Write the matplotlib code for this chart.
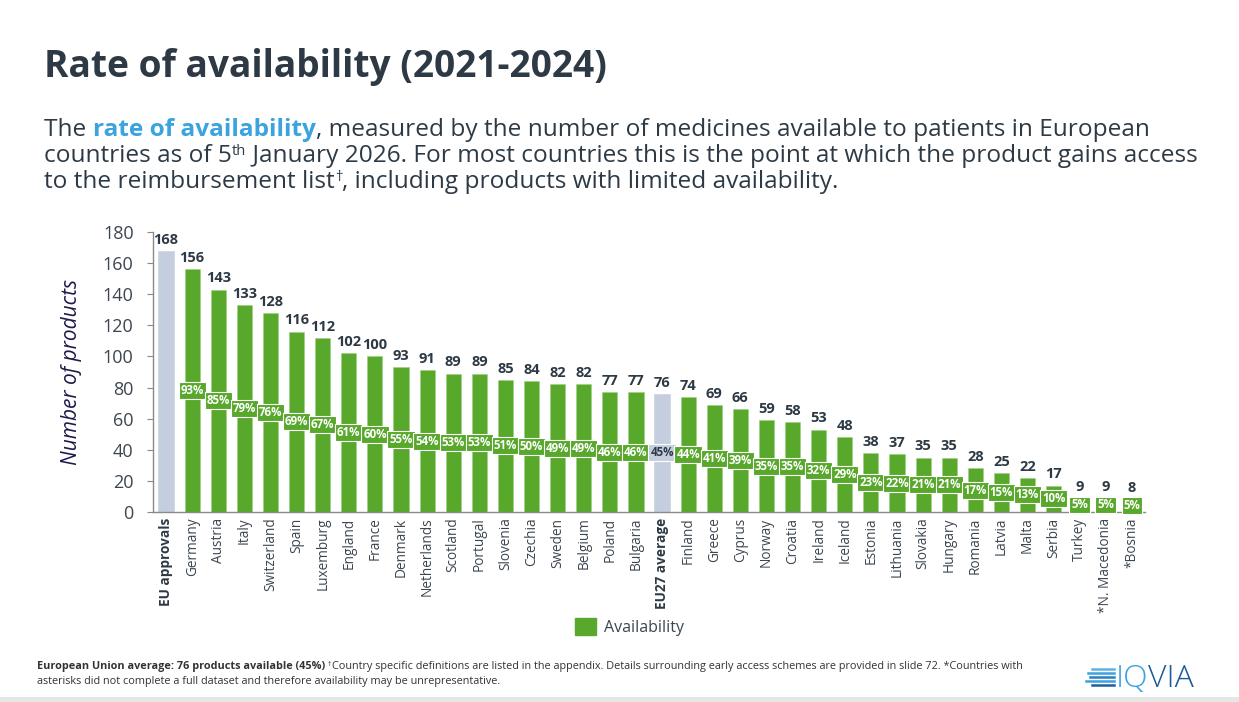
import matplotlib
matplotlib.use("Agg")
import matplotlib.pyplot as plt
from matplotlib.patches import Patch, Rectangle
from matplotlib.lines import Line2D

plt.rcParams['font.family'] = ['Open Sans', 'DejaVu Sans']

countries = ["EU approvals", "Germany", "Austria", "Italy", "Switzerland", "Spain", "Luxemburg",
             "England", "France", "Denmark", "Netherlands", "Scotland", "Portugal", "Slovenia",
             "Czechia", "Sweden", "Belgium", "Poland", "Bulgaria", "EU27 average", "Finland",
             "Greece", "Cyprus", "Norway", "Croatia", "Ireland", "Iceland", "Estonia", "Lithuania",
             "Slovakia", "Hungary", "Romania", "Latvia", "Malta", "Serbia", "Turkey",
             "*N. Macedonia", "*Bosnia"]
products = [168, 156, 143, 133, 128, 116, 112, 102, 100, 93, 91, 89, 89, 85, 84, 82, 82, 77, 77,
            76, 74, 69, 66, 59, 58, 53, 48, 38, 37, 35, 35, 28, 25, 22, 17, 9, 9, 8]
percent = [None, 93, 85, 79, 76, 69, 67, 61, 60, 55, 54, 53, 53, 51, 50, 49, 49, 46, 46, 45, 44,
           41, 39, 35, 35, 32, 29, 23, 22, 21, 21, 17, 15, 13, 10, 5, 5, 5]
reference_bars = ["EU approvals", "EU27 average"]
yticks = [0, 20, 40, 60, 80, 100, 120, 140, 160, 180]

GREEN = "#58a82c"
GREY = "#c5cedf"
DARK = "#2d3a45"
TICK = "#3c4650"
BLUE = "#3aa3e0"

W, H = 1239, 702
fig = plt.figure(figsize=(W / 100, H / 100), dpi=100)
fig.patch.set_facecolor("white")

ax = fig.add_axes([153 / W, 1 - 512 / H, (1145 - 153) / W, 280 / H])
x = list(range(len(countries)))
colors = [GREY if c in reference_bars else GREEN for c in countries]
bars = ax.bar(x, products, width=0.58, color=colors, edgecolor="#9fd07f", linewidth=0.4, zorder=2)
for b, c in zip(bars, countries):
    if c in reference_bars:
        b.set_edgecolor(GREY)

ax.set_xlim(-0.5, len(countries) - 0.5)
ax.set_ylim(0, 180)
ax.set_yticks(yticks)
ax.tick_params(axis='y', labelsize=13, colors="#888888", labelcolor=TICK, length=4, width=0.8, pad=10)
ax.set_xticks(x)
ax.set_xticklabels(countries, rotation=90, fontsize=9.8, color=TICK)
ax.tick_params(axis='x', length=0, pad=4)
for lbl, c in zip(ax.get_xticklabels(), countries):
    if c in reference_bars:
        lbl.set_fontweight("bold")
        lbl.set_color(DARK)
for s in ["top", "right"]:
    ax.spines[s].set_visible(False)
for s in ["left", "bottom"]:
    ax.spines[s].set_color("#8a8a8a")
    ax.spines[s].set_linewidth(1.0)

ax.set_ylabel("Number of products", fontsize=15, style="italic", color="#1d1a4a", labelpad=15)

for xi, v, p, c in zip(x, products, percent, countries):
    ax.annotate(str(v), (xi, v), xytext=(0, 3), textcoords="offset points",
                ha="center", va="bottom", fontsize=10.5, fontweight="bold", color=DARK)
    if p is not None:
        is_ref = c in reference_bars
        ax.text(xi, v / 2, f"{p}%", ha="center", va="center", fontsize=8.3, fontweight="bold",
                color=DARK if is_ref else "white", zorder=4,
                bbox=dict(boxstyle="square,pad=0.17", facecolor=GREY if is_ref else GREEN,
                          edgecolor="white", linewidth=0.8))

ax.legend(handles=[Patch(facecolor=GREEN, edgecolor=GREEN, label="Availability")],
          loc="center", bbox_to_anchor=(0.48, -0.41), frameon=False, fontsize=11.5,
          handlelength=1.3, handleheight=1.3, labelcolor=TICK, handletextpad=0.5)

# --- text helpers ---
renderer = fig.canvas.get_renderer()

def run(pieces, x0, y0):
    """pieces: list of (text, kwargs, dy_px). x0,y0 in pixels from top-left (baseline)."""
    cx = x0
    for txt, kw, dy in pieces:
        t = fig.text(cx / W, 1 - (y0 - dy) / H, txt, ha="left", va="baseline", **kw)
        bb = t.get_window_extent(renderer)
        cx += bb.width
    return cx

fig.text(44 / W, 1 - 77 / H, "Rate of availability (2021-2024)", fontsize=26.7, fontweight="bold",
         color=DARK, ha="left", va="baseline")

FS = 17.6
sk = dict(fontsize=FS, color=DARK)
sup = dict(fontsize=10.5, color=DARK)
run([("The ", sk, 0), ("rate of availability", dict(fontsize=FS, color=BLUE, fontweight="bold"), 0),
     (", measured by the number of medicines available to patients in European", sk, 0)], 44, 136)
run([("countries as of 5", sk, 0), ("th", sup, 7),
     (" January 2026. For most countries this is the point at which the product gains access", sk, 0)], 44, 162)
run([("to the reimbursement list", sk, 0), ("†", sup, 7),
     (", including products with limited availability.", sk, 0)], 44, 188)

FF = 7.8
fk = dict(fontsize=FF, color="#333333")
run([("European Union average: 76 products available (45%)", dict(fontsize=FF, color="#333333", fontweight="bold"), 0),
     (" ", fk, 0), ("†", dict(fontsize=5, color="#333333"), 3),
     ("Country specific definitions are listed in the appendix. Details surrounding early access schemes are provided in slide 72. *Countries with", fk, 0)],
    37, 669)
run([("asterisks did not complete a full dataset and therefore availability may be unrepresentative.", fk, 0)], 37, 684)

# IQVIA logo
for i, (x1, x2, col) in enumerate([(1092, 1114, "#5bb6e6"), (1088, 1114, "#3aa3e0"), (1090, 1114, "#2f7fbf"),
                                    (1086, 1114, "#3aa3e0"), (1092, 1114, "#1f5f9f")]):
    yy = 669 + i * 4
    fig.add_artist(Line2D([x1 / W, x2 / W], [1 - yy / H, 1 - yy / H], color=col, lw=1.8))
run([("IQ", dict(fontsize=23, color="#3aa3e0", fontweight="light"), 0),
     ("VIA", dict(fontsize=23, color="#1b5a96", fontweight="light"), 0)], 1116, 687)

# bottom grey band
fig.add_artist(Rectangle((0, 0), 1, 5 / H, transform=fig.transFigure, facecolor="#e6e6e6", edgecolor="none"))

fig.savefig("out.png", dpi=100, facecolor="white")
